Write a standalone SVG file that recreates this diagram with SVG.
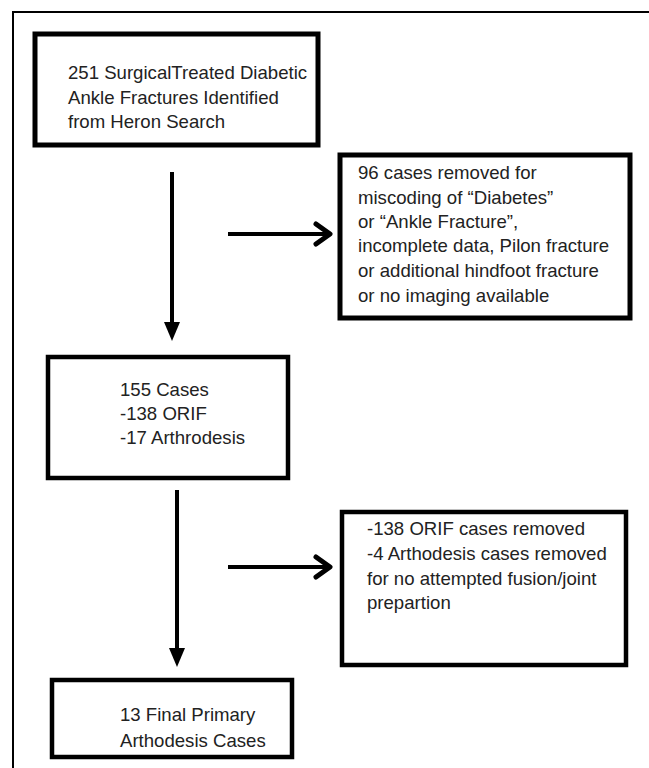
<svg xmlns="http://www.w3.org/2000/svg" width="649" height="768" viewBox="0 0 649 768">
<style>
.box{fill:#fff;stroke:#000;stroke-width:4.5}
.thick{stroke-width:5}
.t{font-family:"Liberation Sans",Arial,sans-serif;font-size:18.6px;fill:#222}
.ln{stroke:#000;stroke-width:4;fill:none}
.chev{stroke:#000;stroke-width:5;fill:none;stroke-linecap:round;stroke-linejoin:round}
</style>
<rect x="0" y="0" width="649" height="768" fill="#fff"/>
<path d="M13,768 V12 H649" fill="none" stroke="#000" stroke-width="2"/>
<g id="connectors">
  <line class="ln" x1="172" y1="172" x2="172" y2="324"/>
  <polygon points="164,322 180,322 172,341" fill="#000"/>
  <line class="ln" x1="228" y1="234" x2="328" y2="234"/>
  <polyline class="chev" points="316,224 330,234 316,244"/>
  <line class="ln" x1="177" y1="490" x2="177" y2="650"/>
  <polygon points="169,648 185,648 177,667" fill="#000"/>
  <line class="ln" x1="228" y1="567" x2="328" y2="567"/>
  <polyline class="chev" points="316,557 330,567 316,577"/>
</g>
<g id="n1">
  <rect class="box thick" x="35" y="34" width="283" height="111"/>
  <text class="t" x="68" y="79">251 SurgicalTreated Diabetic</text>
  <text class="t" x="68" y="104">Ankle Fractures Identified</text>
  <text class="t" x="68" y="128">from Heron Search</text>
</g>
<g id="n2">
  <rect class="box thick" x="340" y="155" width="290" height="163"/>
  <text class="t" x="358" y="179">96 cases removed for</text>
  <text class="t" x="358" y="204">miscoding of “Diabetes”</text>
  <text class="t" x="358" y="228">or “Ankle Fracture”,</text>
  <text class="t" x="358" y="252">incomplete data, Pilon fracture</text>
  <text class="t" x="358" y="277">or additional hindfoot fracture</text>
  <text class="t" x="358" y="302">or no imaging available</text>
</g>
<g id="n3">
  <rect class="box" x="48" y="357" width="240" height="121"/>
  <text class="t" x="120" y="396">155 Cases</text>
  <text class="t" x="120" y="420">-138 ORIF</text>
  <text class="t" x="120" y="444">-17 Arthrodesis</text>
</g>
<g id="n4">
  <rect class="box" x="342" y="512" width="284" height="153"/>
  <text class="t" x="367" y="535">-138 ORIF cases removed</text>
  <text class="t" x="367" y="560">-4 Arthodesis cases removed</text>
  <text class="t" x="367" y="585">for no attempted fusion/joint</text>
  <text class="t" x="367" y="609">prepartion</text>
</g>
<g id="n5">
  <rect class="box" x="52" y="680" width="240" height="77"/>
  <text class="t" x="120" y="721">13 Final Primary</text>
  <text class="t" x="120" y="747">Arthodesis Cases</text>
</g>
</svg>
